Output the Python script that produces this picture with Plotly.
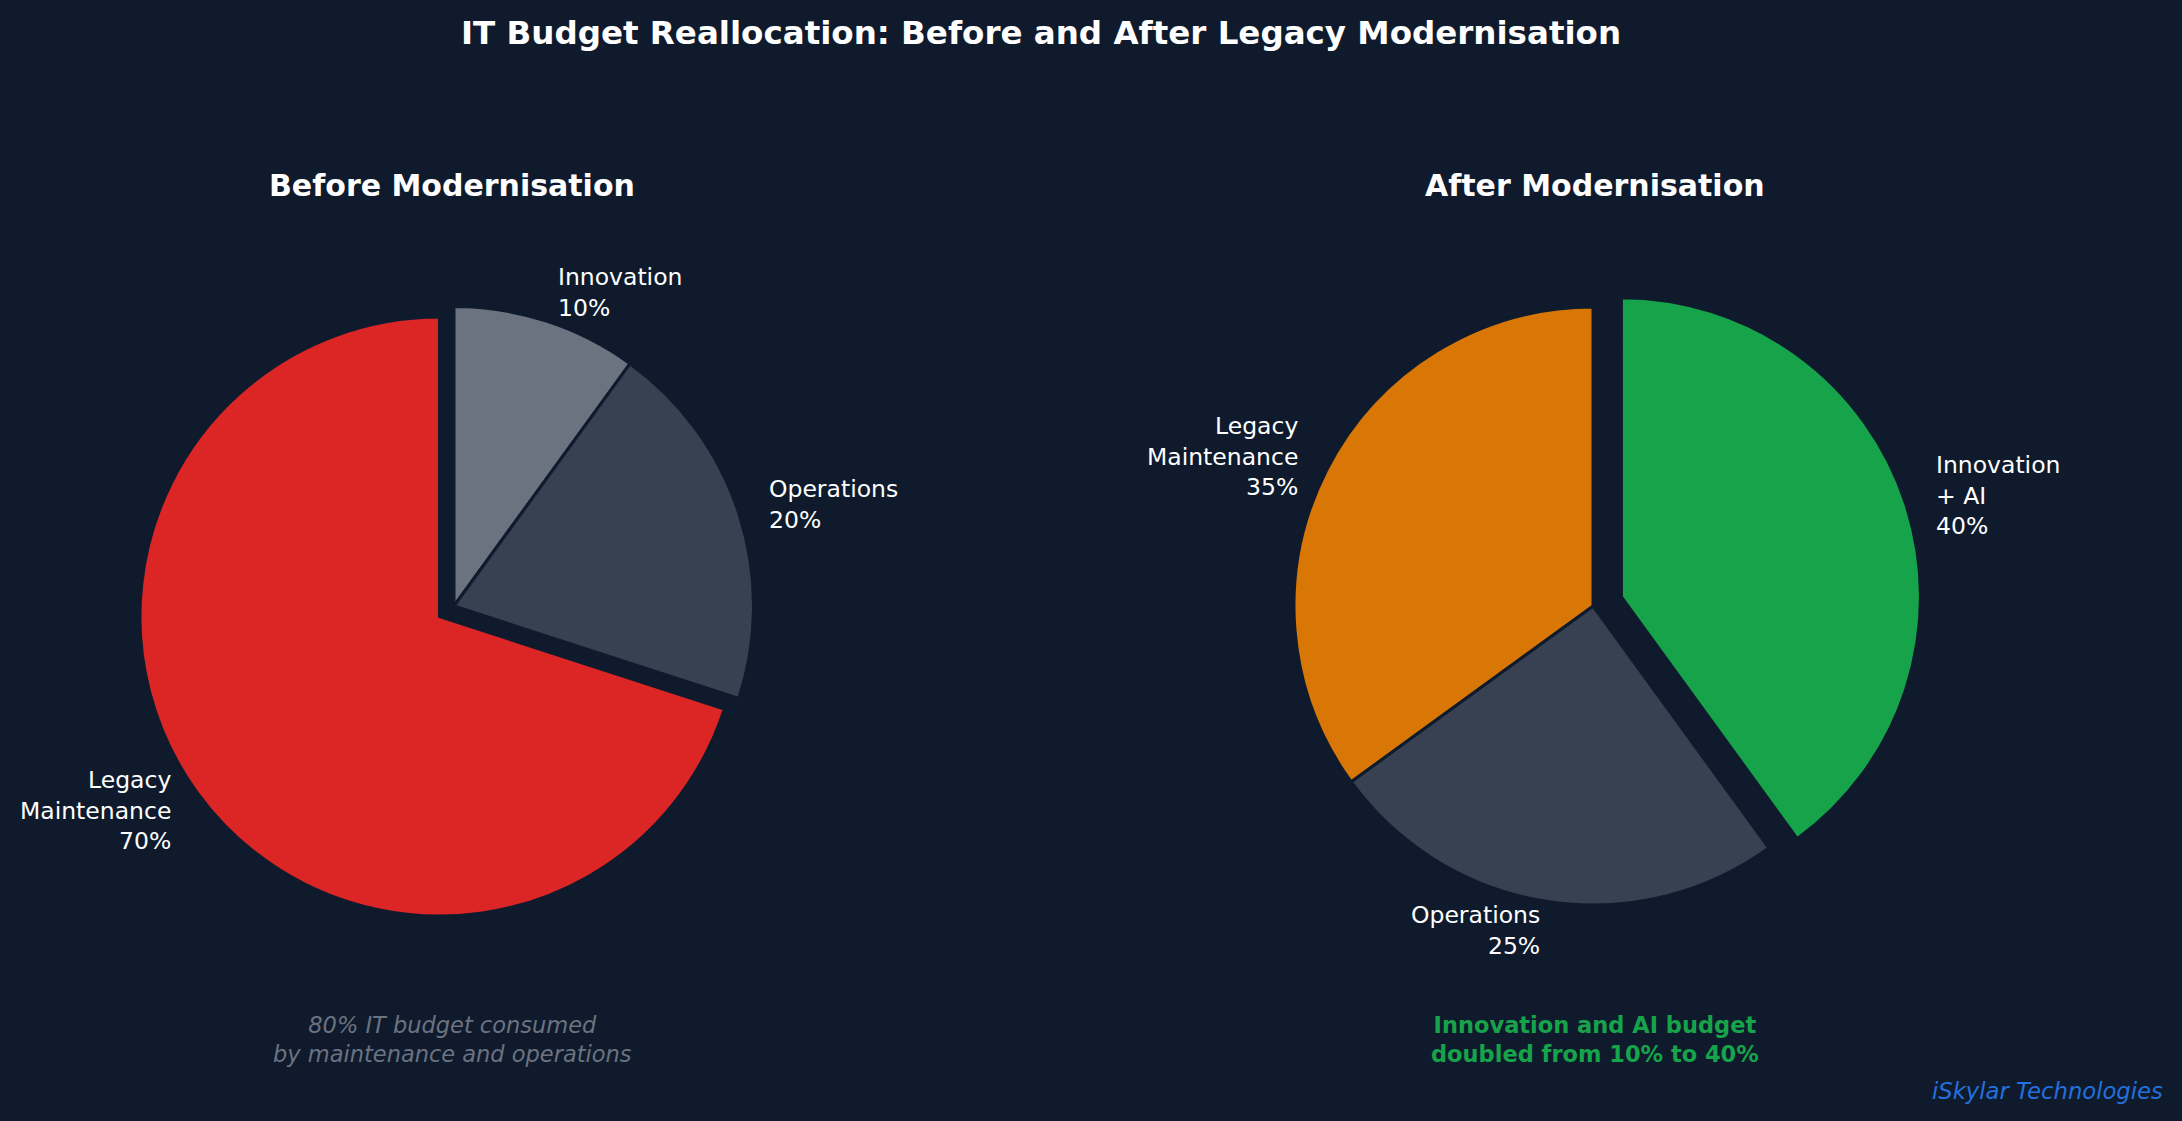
import math
import plotly.graph_objects as go

# ---------------- data ----------------
before_labels = ["Legacy<br>Maintenance", "Operations", "Innovation"]
before_values = [70, 20, 10]
before_colors = ["#dc2626", "#374151", "#6b7280"]
before_pull = [0.06, 0, 0]

after_labels = ["Legacy<br>Maintenance", "Operations", "Innovation<br>+ AI"]
after_values = [35, 25, 40]
after_colors = ["#d97706", "#374151", "#16a34a"]
after_pull = [0, 0, 0.1]

title_text = "IT Budget Reallocation: Before and After Legacy Modernisation"
before_title = "Before Modernisation"
after_title = "After Modernisation"
before_note = "80% IT budget consumed<br>by maintenance and operations"
after_note = "Innovation and AI budget<br>doubled from 10% to 40%"
brand = "iSkylar Technologies"

# ---------------- style ----------------
W, H = 2182, 1121
BG = "#0f1b2d"
FONT = "DejaVu Sans"
LABEL_SIZE = 23.5

# pie geometry (pixel centre and radius), domains derived so plotly draws them there
left_c, left_r = (454, 606), 299.5
right_c, right_r = (1593, 606), 299


def domain_for(c, r, pull):
    half = r * (1 + max(pull))
    return dict(x=[(c[0] - half) / W, (c[0] + half) / W],
                y=[1 - (c[1] + half) / H, 1 - (c[1] - half) / H])


def label_annotations(labels, values, pull, c, r, dist=1.1):
    # slices laid out counter-clockwise from 12 o'clock
    anns = []
    total = sum(values)
    start = 90.0
    for lab, v, p in zip(labels, values, pull):
        span = 360.0 * v / total
        mid = math.radians(start + span / 2)
        start += span
        cx = c[0] + p * r * math.cos(mid)
        cy = c[1] - p * r * math.sin(mid)
        px = cx + dist * r * math.cos(mid)
        py = cy - dist * r * math.sin(mid)
        pct = f"{v / total * 100:.0f}%"
        left = math.cos(mid) > 0
        anns.append(dict(
            x=px / W, y=1 - py / H, xref="paper", yref="paper",
            text=f"{lab}<br>{pct}", showarrow=False,
            xanchor="left" if left else "right", yanchor="middle",
            align="left" if left else "right",
            font=dict(family=FONT, size=LABEL_SIZE, color="#ffffff"),
        ))
    return anns


def pie(labels, values, colors, pull, c, r):
    # plotly clockwise with reversed order == counter-clockwise from 12 o'clock
    return go.Pie(
        labels=labels[::-1], values=values[::-1], sort=False,
        direction="clockwise", rotation=0, pull=pull[::-1],
        marker=dict(colors=colors[::-1], line=dict(color=BG, width=3)),
        textinfo="none", hoverinfo="label+percent",
        domain=domain_for(c, r, pull),
    )


fig = go.Figure()
fig.add_trace(pie(before_labels, before_values, before_colors, before_pull, left_c, left_r))
fig.add_trace(pie(after_labels, after_values, after_colors, after_pull, right_c, right_r))

annotations = []
annotations += label_annotations(before_labels, before_values, before_pull, left_c, left_r)
annotations += label_annotations(after_labels, after_values, after_pull, right_c, right_r)

# sub titles
annotations.append(dict(x=452 / W, y=1 - 185 / H, xref="paper", yref="paper",
                        text=f"<b>{before_title}</b>", showarrow=False,
                        xanchor="center", yanchor="middle",
                        font=dict(family=FONT, size=30, color="#ffffff")))
annotations.append(dict(x=1595 / W, y=1 - 185 / H, xref="paper", yref="paper",
                        text=f"<b>{after_title}</b>", showarrow=False,
                        xanchor="center", yanchor="middle",
                        font=dict(family=FONT, size=30, color="#ffffff")))
# notes
annotations.append(dict(x=452 / W, y=1 - 1039 / H, xref="paper", yref="paper",
                        text=f"<i>{before_note}</i>", showarrow=False,
                        xanchor="center", yanchor="middle", align="center",
                        font=dict(family=FONT, size=22.5, color="#6b7280")))
annotations.append(dict(x=1595 / W, y=1 - 1039 / H, xref="paper", yref="paper",
                        text=f"<b>{after_note}</b>", showarrow=False,
                        xanchor="center", yanchor="middle", align="center",
                        font=dict(family=FONT, size=22.5, color="#16a34a")))
# brand
annotations.append(dict(x=2165 / W, y=1 - 1091 / H, xref="paper", yref="paper",
                        text=f"<i>{brand}</i>", showarrow=False,
                        xanchor="right", yanchor="middle",
                        font=dict(family=FONT, size=22.7, color="#2470dc")))

fig.update_layout(
    width=W, height=H,
    margin=dict(l=0, r=0, t=0, b=0),
    paper_bgcolor=BG, plot_bgcolor=BG,
    showlegend=False,
    title=dict(text=f"<b>{title_text}</b>", x=1041 / W, xanchor="center",
               y=1 - 33 / H, yanchor="middle", yref="container", xref="container",
               font=dict(family=FONT, size=32.5, color="#ffffff")),
    annotations=annotations,
)

fig.write_html(
    "out.html",
    config={"displayModeBar": False},
    post_script="document.body.style.margin='0';document.body.style.overflow='hidden';"
                "document.body.style.background='" + BG + "';",
)
